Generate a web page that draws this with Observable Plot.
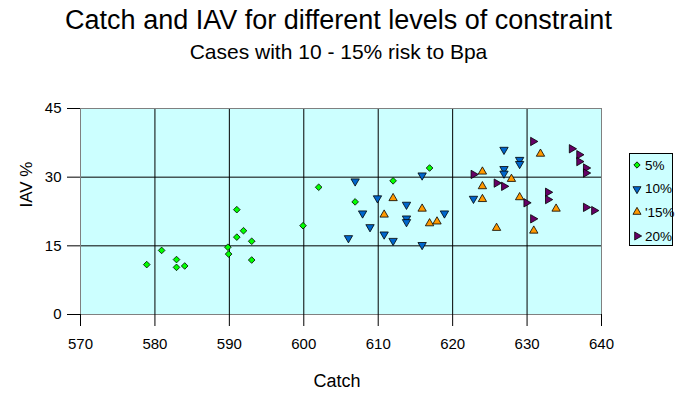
<!DOCTYPE html>
<html>
<head>
<meta charset="utf-8">
<script src="https://cdn.jsdelivr.net/npm/d3@7"></script>
<script src="https://cdn.jsdelivr.net/npm/@observablehq/plot@0.6"></script>
<style>
  html, body { margin: 0; padding: 0; background: #fff; }
  #wrap { position: relative; width: 677px; height: 398px; font-family: "Liberation Sans", Arial, sans-serif; color: #000; }
  #title { position: absolute; left: 0; width: 677px; top: 5px; text-align: center; font-size: 27px; line-height: 31px; white-space: nowrap; }
  #subtitle { position: absolute; left: 0; width: 677px; top: 40px; text-align: center; font-size: 21px; line-height: 24px; white-space: nowrap; }
  #legend { position: absolute; left: 629px; top: 153px; width: 44px; height: 93px; background: #CCFFFF; border: 1px solid #000; box-sizing: border-box; }
  .lrow { position: absolute; left: 0; height: 16px; display: flex; align-items: center; font-size: 13.5px; white-space: nowrap; }
  .lrow svg { margin-left: 2px; margin-right: 3px; }
</style>
</head>
<body>
<div id="wrap">
  <div id="chart"></div>
  <div id="title"></div>
  <div id="subtitle"></div>
  <div id="legend"></div>
</div>
<script>
// ---- Data ----
const titleText = "Catch and IAV for different levels of constraint";
const subtitleText = "Cases with 10 - 15% risk to Bpa";
const xLabel = "Catch";
const yLabel = "IAV %";
const xTicks = [570, 580, 590, 600, 610, 620, 630, 640];
const yTicks = [0, 15, 30, 45];
const seriesNames = ["5%", "10%", "'15%", "20%"];
const seriesColors = ["#00FF00", "#0066CC", "#FF9900", "#660066"];

const catch5 = [591.0, 591.9, 591.0, 593.0, 580.9, 589.8, 589.9, 593.0, 582.9, 582.9, 584.0, 578.9, 616.9, 612.0, 602.0, 606.9, 599.9];
const iav5   = [22.9, 18.3, 16.9, 16.0, 14.0, 14.7, 13.2, 11.9, 12.0, 10.3, 10.6, 10.9, 32.0, 29.2, 27.8, 24.6, 19.4];

const catch10 = [615.9, 606.9, 609.9, 613.8, 607.9, 618.9, 613.8, 613.8, 608.9, 606.0, 610.8, 612.0, 615.9, 626.9, 629.0, 629.0, 626.9, 626.9, 622.8];
const iav10   = [30.4, 29.1, 25.4, 24.0, 22.1, 22.1, 21.0, 20.2, 19.1, 16.7, 17.5, 16.1, 15.2, 36.0, 33.8, 32.9, 31.8, 30.8, 25.3];

const catch15 = [612.0, 615.9, 610.8, 616.9, 617.9, 631.8, 624.0, 627.9, 624.0, 624.0, 629.0, 633.9, 625.9, 630.9];
const iav15   = [25.4, 23.1, 21.8, 19.9, 20.3, 35.1, 31.2, 29.6, 28.0, 25.2, 25.6, 23.1, 18.9, 18.3];

const catch20 = [630.8, 636.0, 637.0, 637.0, 637.9, 637.9, 622.8, 625.9, 626.9, 632.8, 632.8, 629.9, 637.9, 639.0, 630.8];
const iav20   = [37.8, 36.2, 34.9, 33.4, 32.0, 30.9, 30.6, 28.7, 28.0, 26.7, 25.1, 24.4, 23.4, 22.7, 20.9];

// ---- Build tables ----
const toRows = (xs, ys) => xs.map((x, i) => ({catch: x, iav: ys[i]}));
const d5 = toRows(catch5, iav5);
const d10 = toRows(catch10, iav10);
const d15 = toRows(catch15, iav15);
const d20 = toRows(catch20, iav20);

const font = "'Liberation Sans', Arial, sans-serif";

const chart = Plot.plot({
  width: 677,
  height: 398,
  marginLeft: 80,
  marginRight: 76,
  marginTop: 108,
  marginBottom: 84,
  style: { fontFamily: font, fontSize: "15px", color: "#000", background: "transparent", overflow: "visible" },
  x: { domain: [570, 640], label: null },
  y: { domain: [0, 45], label: null },
  marks: [
    Plot.frame({ fill: "#CCFFFF", stroke: null }),
    Plot.gridX(xTicks, { stroke: "#000", strokeOpacity: 1, strokeWidth: 1 }),
    Plot.gridY(yTicks, { stroke: "#000", strokeOpacity: 1, strokeWidth: 1 }),
    Plot.frame({ stroke: "#808080", strokeWidth: 1 }),
    Plot.axisX({ ticks: xTicks, tickSize: 12, tickPadding: 12, fontSize: 15, label: null, tickFormat: d => String(d) }),
    Plot.axisY({ ticks: yTicks, tickSize: 13, tickPadding: 6, fontSize: 15, label: null, tickFormat: d => String(d) }),
    Plot.text([xLabel], { frameAnchor: "bottom", dx: -4, dy: 72, fontSize: 18, text: d => d }),
    Plot.text([yLabel], { frameAnchor: "left", dx: -54, dy: -4, rotate: -90, fontSize: 17, text: d => d }),
    Plot.dot(d5,  { x: "catch", y: "iav", symbol: "diamond2", r: 3.0, fill: seriesColors[0], stroke: "#000", strokeWidth: 0.8 }),
    Plot.dot(d10, { x: "catch", y: "iav", symbol: "triangle", rotate: 180, r: 3.1, fill: seriesColors[1], stroke: "#000", strokeWidth: 0.8 }),
    Plot.dot(d15, { x: "catch", y: "iav", symbol: "triangle", r: 3.1, fill: seriesColors[2], stroke: "#000", strokeWidth: 0.8 }),
    Plot.dot(d20, { x: "catch", y: "iav", symbol: "triangle", rotate: 90, r: 3.1, fill: seriesColors[3], stroke: "#000", strokeWidth: 0.8 })
  ]
});
document.getElementById("chart").appendChild(chart);

document.getElementById("title").textContent = titleText;
document.getElementById("subtitle").textContent = subtitleText;

// ---- Legend ----
const legend = document.getElementById("legend");
const rotations = [45, 180, 0, 90];
const shapes = ["diamond", "triangle", "triangle", "triangle"];
seriesNames.forEach((name, i) => {
  const row = document.createElement("div");
  row.className = "lrow";
  row.style.top = (3 + i * 23.7) + "px";
  const size = 10;
  const sym = shapes[i] === "diamond" ? d3.symbolSquare : d3.symbolTriangle;
  const path = d3.symbol(sym, shapes[i] === "diamond" ? 20 : 28)();
  row.innerHTML = `<svg width="${size}" height="${size}" viewBox="-5 -5 10 10"><path d="${path}" transform="rotate(${rotations[i]})" fill="${seriesColors[i]}" stroke="#000" stroke-width="0.8"/></svg><span>${name}</span>`;
  legend.appendChild(row);
});
</script>
</body>
</html>
